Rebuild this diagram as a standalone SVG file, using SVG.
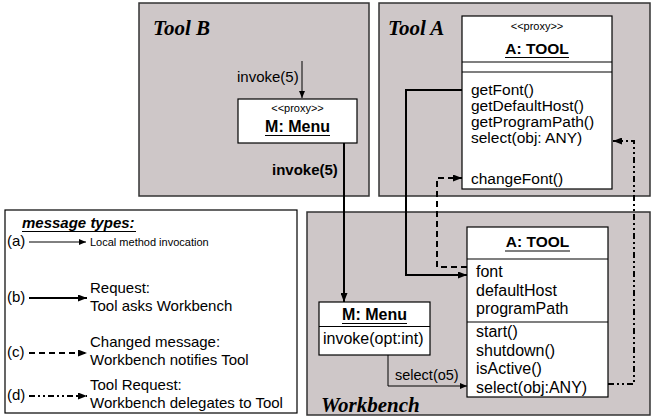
<svg xmlns="http://www.w3.org/2000/svg" width="659" height="418" viewBox="0 0 659 418">
  <style>
    .panel { fill: #cec7c8; stroke: #333333; stroke-width: 1.5; }
    .box { fill: #ffffff; stroke: #000000; stroke-width: 1.2; }
    .sep { stroke: #000000; stroke-width: 1.2; }
    .title { font-family: "Liberation Serif", "Times New Roman", serif; font-weight: bold; font-style: italic; font-size: 21px; fill: #000; }
    .txt { font-family: "Liberation Sans", Arial, sans-serif; fill: #000; }
    .stereo { font-size: 11px; text-anchor: middle; }
    .name { font-size: 16px; font-weight: bold; text-anchor: middle; }
    .ul { stroke: #000; stroke-width: 1.2; }
    .thin { fill: none; stroke: #000; stroke-width: 1; }
    .req { fill: none; stroke: #000; stroke-width: 2; }
    .chg { fill: none; stroke: #000; stroke-width: 2; stroke-dasharray: 6 4; }
    .treq { fill: none; stroke: #000; stroke-width: 2; stroke-dasharray: 6 3 2 3 2 3; }
  </style>
  <defs>
    <marker id="ah-thin" markerUnits="userSpaceOnUse" markerWidth="7" markerHeight="6" refX="7" refY="3" orient="auto">
      <path d="M0,0 L7,3 L0,6 z" fill="#000"/>
    </marker>
    <marker id="ah-bold" markerUnits="userSpaceOnUse" markerWidth="9" markerHeight="7" refX="9" refY="3.5" orient="auto">
      <path d="M0,0 L9,3.5 L0,7 z" fill="#000"/>
    </marker>
  </defs>

  <!-- process panels -->
  <g id="tool-b">
    <rect class="panel" x="139" y="3" width="230" height="193"/>
    <text class="title" x="153" y="35">Tool B</text>
  </g>
  <g id="tool-a">
    <rect class="panel" x="379" y="3" width="271" height="193"/>
    <text class="title" x="388" y="35">Tool A</text>
  </g>
  <g id="workbench">
    <rect class="panel" x="307" y="212" width="343" height="203"/>
    <text class="title" x="321" y="412">Workbench</text>
  </g>

  <!-- proxy menu inside Tool B -->
  <g id="proxy-menu">
    <rect class="box" x="238" y="99" width="119" height="44"/>
    <text class="txt stereo" x="297.5" y="112">&lt;&lt;proxy&gt;&gt;</text>
    <text class="txt name" x="297.5" y="132">M: Menu</text>
    <line class="ul" x1="265" y1="135.5" x2="330" y2="135.5"/>
  </g>

  <!-- proxy tool inside Tool A -->
  <g id="proxy-tool">
    <rect class="box" x="462" y="16" width="150" height="173"/>
    <text class="txt stereo" x="537" y="30">&lt;&lt;proxy&gt;&gt;</text>
    <text class="txt name" x="537" y="54" style="font-size:15.5px">A: TOOL</text>
    <line class="ul" x1="505" y1="57.5" x2="569" y2="57.5"/>
    <line class="sep" x1="462" y1="62" x2="612" y2="62"/>
    <line class="sep" x1="462" y1="72" x2="612" y2="72"/>
    <g class="txt" font-size="15.5">
      <text x="471" y="95">getFont()</text>
      <text x="471" y="111">getDefaultHost()</text>
      <text x="471" y="127">getProgramPath()</text>
      <text x="471" y="143">select(obj: ANY)</text>
      <text x="471" y="184">changeFont()</text>
    </g>
  </g>

  <!-- menu inside Workbench -->
  <g id="menu">
    <rect class="box" x="319" y="302" width="111" height="53"/>
    <text class="txt name" x="374.5" y="320">M: Menu</text>
    <line class="ul" x1="342" y1="323.5" x2="407" y2="323.5"/>
    <line class="sep" x1="319" y1="326.5" x2="430" y2="326.5"/>
    <text class="txt" x="323" y="344" font-size="16">invoke(opt:int)</text>
  </g>

  <!-- tool object inside Workbench -->
  <g id="tool">
    <rect class="box" x="467" y="227" width="141" height="170"/>
    <text class="txt name" x="537.5" y="247" style="font-size:15.5px">A: TOOL</text>
    <line class="ul" x1="505" y1="251" x2="570" y2="251"/>
    <line class="sep" x1="467" y1="259" x2="608" y2="259"/>
    <line class="sep" x1="467" y1="322" x2="608" y2="322"/>
    <g class="txt" font-size="16">
      <text x="476" y="277">font</text>
      <text x="476" y="295.5">defaultHost</text>
      <text x="476" y="314">programPath</text>
      <text x="476" y="337">start()</text>
      <text x="476" y="355.5">shutdown()</text>
      <text x="476" y="374">isActive()</text>
      <text x="476" y="392.5">select(obj:ANY)</text>
    </g>
  </g>

  <!-- messages -->
  <g id="connectors">
    <path class="thin" d="M302,61 V98" marker-end="url(#ah-thin)"/>
    <text class="txt" x="237" y="82" font-size="15">invoke(5)</text>
    <path class="req" d="M344,143 V302" marker-end="url(#ah-bold)"/>
    <text class="txt" x="272" y="175" font-size="15" font-weight="bold">invoke(5)</text>
    <path class="req" d="M462,90 H406 V275 H467" marker-end="url(#ah-bold)"/>
    <path class="chg" d="M467,267 H437 V178 H462" marker-end="url(#ah-bold)"/>
    <path class="treq" d="M608,384 H634 V141 H613" marker-end="url(#ah-bold)"/>
    <path class="thin" d="M388,355 V386 H467" marker-end="url(#ah-thin)"/>
    <text class="txt" x="395" y="380" font-size="14.5">select(o5)</text>
  </g>

  <!-- legend of message types -->
  <g id="legend">
    <rect x="5" y="210" width="292" height="203" fill="#ffffff" stroke="#000" stroke-width="1.2"/>
    <text class="txt" x="22" y="228" font-size="15" font-weight="bold" font-style="italic">message types:</text>
    <line class="ul" x1="22" y1="231.5" x2="136" y2="231.5"/>
    <g class="txt" font-size="15">
      <text x="7" y="246">(a)</text>
      <text x="7" y="302">(b)</text>
      <text x="7" y="357">(c)</text>
      <text x="7" y="400">(d)</text>
      <text x="90" y="293">Request:</text>
      <text x="90" y="311">Tool asks Workbench</text>
      <text x="90" y="347">Changed message:</text>
      <text x="90" y="365">Workbench notifies Tool</text>
      <text x="90" y="390">Tool Request:</text>
      <text x="90" y="408">Workbench delegates to Tool</text>
    </g>
    <text class="txt" x="90" y="246" font-size="11">Local method invocation</text>
    <path class="thin" d="M29,242 H86" marker-end="url(#ah-thin)"/>
    <path class="req" d="M29,298 H87" marker-end="url(#ah-bold)"/>
    <path class="chg" d="M29,353 H87" marker-end="url(#ah-bold)"/>
    <path class="treq" d="M29,396 H87" marker-end="url(#ah-bold)"/>
  </g>
</svg>
